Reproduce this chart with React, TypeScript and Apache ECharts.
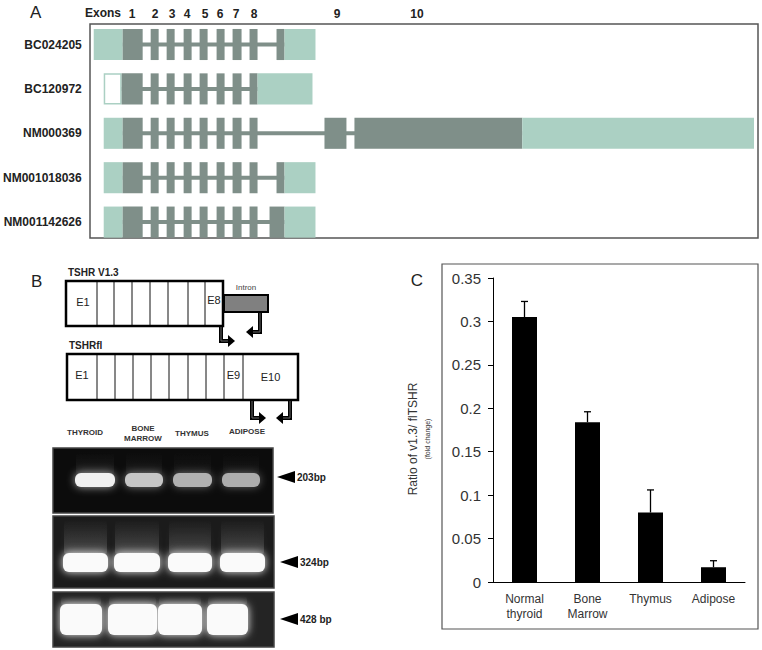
import React, { useEffect, useRef } from "react";
import * as echarts from "echarts";

// ---------- Panel A data (positions along the transcript, figure units) ----------
const transcripts = ["BC024205", "BC120972", "NM000369", "NM001018036", "NM001142626"];
const utr5 = [[93, 122], [103, 121], [103, 122], [103, 122], [103, 122]];
const utr5Unknown = [false, true, false, false, false];
const commonExons = [[150, 158], [166, 174], [183, 191], [199, 207], [216, 224], [232, 241], [249, 257]];
const codingExons = [
  [[122, 142], ...commonExons, [276, 284]],
  [[121, 142], ...commonExons],
  [[122, 142], ...commonExons, [324, 346], [354, 522]],
  [[122, 142], ...commonExons, [276, 284]],
  [[122, 142], ...commonExons, [269, 284]],
];
const utr3 = [[284, 315], [257, 312], [522, 754], [284, 315], [284, 315]];
const exonNumbers = ["1", "2", "3", "4", "5", "6", "7", "8", "9", "10"];
const exonNumberPos = [132, 155, 172, 187, 205, 220, 236, 254, 337, 417];

// ---------- Panel B data ----------
const v13Exons = ["E1", "", "", "", "", "", "", "E8"];
const flExons = ["E1", "", "", "", "", "", "", "", "E9", "E10"];
const gelLanes = ["THYROID", "BONE\nMARROW", "THYMUS", "ADIPOSE"];
const gelSizes = ["203bp", "324bp", "428 bp"];
const band203 = [1.0, 0.72, 0.58, 0.55];
const band324 = [1.0, 1.0, 0.95, 1.0];
const band428 = [1.0, 1.0, 1.0, 1.0];

// ---------- Panel C data ----------
const tissues = ["Normal\nthyroid", "Bone\nMarrow", "Thymus", "Adipose"];
const ratio = [0.305, 0.184, 0.08, 0.017];
const ratioErr = [0.018, 0.012, 0.026, 0.0075];
const yTicks = [0, 0.05, 0.1, 0.15, 0.2, 0.25, 0.3, 0.35];

const FONT = "Liberation Sans, Arial, sans-serif";
const LIGHT = "#abd0c3";
const DARK = "#7f8f89";

function buildPanelB(): any[] {
  const els: any[] = [];
  // Labels
  els.push({ type: "text", x: 31, y: 281, style: { text: "B", font: `17px ${FONT}`, fill: "#222", verticalAlign: "middle" } });
  els.push({ type: "text", x: 68, y: 272, style: { text: "TSHR V1.3", font: `bold 10px ${FONT}`, fill: "#222", verticalAlign: "middle" } });
  els.push({ type: "text", x: 69, y: 345, style: { text: "TSHRfl", font: `bold 10px ${FONT}`, fill: "#222", verticalAlign: "middle" } });

  // V1.3 box
  const v13Div = [66, 97, 114, 132, 150, 168, 188, 205, 223];
  for (let i = 1; i < v13Div.length - 1; i++) {
    els.push({ type: "line", shape: { x1: v13Div[i], y1: 281, x2: v13Div[i], y2: 326 }, style: { stroke: "#111", lineWidth: 1 } });
  }
  els.push({ type: "rect", shape: { x: 66, y: 281, width: 157, height: 45 }, style: { fill: "none", stroke: "#000", lineWidth: 2.5 } });
  v13Exons.forEach((t, i) => {
    if (!t) return;
    const cx = i === 0 ? 83 : 214;
    els.push({ type: "text", x: cx, y: i === 0 ? 302 : 300, style: { text: t, font: `11px ${FONT}`, fill: "#222", align: "center", verticalAlign: "middle" } });
  });
  // intron
  els.push({ type: "text", x: 246, y: 287, style: { text: "Intron", font: `8px ${FONT}`, fill: "#444", align: "center", verticalAlign: "middle" } });
  els.push({ type: "rect", shape: { x: 224, y: 295, width: 44, height: 17 }, style: { fill: "#808080", stroke: "#000", lineWidth: 2 } });

  // fl box
  const flDiv = [67, 97, 115, 133, 151, 169, 188, 206, 224, 243, 298];
  for (let i = 1; i < flDiv.length - 1; i++) {
    els.push({ type: "line", shape: { x1: flDiv[i], y1: 354, x2: flDiv[i], y2: 400 }, style: { stroke: "#111", lineWidth: 1 } });
  }
  els.push({ type: "rect", shape: { x: 67, y: 354, width: 231, height: 46 }, style: { fill: "none", stroke: "#000", lineWidth: 2.5 } });
  flExons.forEach((t, i) => {
    if (!t) return;
    const cx = (flDiv[i] + flDiv[i + 1]) / 2;
    els.push({ type: "text", x: i === 0 ? 82 : cx, y: i === 9 ? 377 : 375, style: { text: t, font: `11px ${FONT}`, fill: "#222", align: "center", verticalAlign: "middle" } });
  });

  // bent arrows
  const arrow = (x: number, y0: number, y1: number, dir: number) => {
    const xe = x + dir * 7;
    els.push({ type: "polyline", shape: { points: [[x, y0], [x, y1], [xe, y1]] }, style: { stroke: "#000", lineWidth: 4, fill: "none" } });
    els.push({ type: "polyline", shape: { points: [[x, y0 + 1], [x, y1], [xe, y1]] }, style: { stroke: "#666", lineWidth: 1, fill: "none" } });
    els.push({ type: "polygon", shape: { points: [[xe, y1 - 6], [xe + dir * 7, y1], [xe, y1 + 6]] }, style: { fill: "#000" } });
  };
  arrow(221, 326, 341, 1);
  arrow(260, 312, 332, -1);
  arrow(252, 400, 418, 1);
  arrow(290, 400, 418, -1);

  // gel lane labels
  const laneLabelX = [85, 143, 192, 247];
  const laneLabelY = [432, 433, 433, 431];
  gelLanes.forEach((t, i) => {
    els.push({ type: "text", x: laneLabelX[i], y: laneLabelY[i], style: { text: t, font: `bold 8px ${FONT}`, fill: "#333", align: "center", verticalAlign: "middle", lineHeight: 10 } });
  });

  // gels
  const gels = [
    { x: 53, y: 448, w: 220, h: 65, bg: "#0c0c0c", lanes: [[75, 115], [125, 163], [173, 212], [222, 260]], by: [473, 487], band: band203, glow: 0.12, label: 477 },
    { x: 53, y: 516, w: 221, h: 72, bg: "#1b1b1b", lanes: [[63, 108], [114, 160], [168, 212], [220, 265]], by: [553, 572], band: band324, glow: 0.3, label: 562 },
    { x: 53, y: 592, w: 221, h: 55, bg: "#242424", lanes: [[60, 102], [108, 157], [158, 202], [207, 248]], by: [604, 635], band: band428, glow: 0.3, label: 619 },
  ];
  gels.forEach((g, gi) => {
    els.push({ type: "rect", shape: { x: g.x, y: g.y, width: g.w, height: g.h }, style: { fill: g.bg, stroke: "#444", lineWidth: 1.5 } });
    g.lanes.forEach((ln, li) => {
      const inten = g.band[li];
      // smear above band
      els.push({
        type: "rect",
        shape: { x: ln[0] + 1, y: g.y + 4, width: ln[1] - ln[0] - 2, height: g.by[0] - g.y - 2, r: 4 },
        style: {
          fill: new echarts.graphic.LinearGradient(0, 0, 0, 1, [
            { offset: 0, color: `rgba(140,140,140,0)` },
            { offset: 1, color: `rgba(170,170,170,${g.glow * inten})` },
          ]),
          shadowBlur: 6,
          shadowColor: `rgba(150,150,150,${g.glow * inten})`,
        },
      });
      const bright = Math.round(90 + 150 * inten);
      els.push({
        type: "rect",
        shape: { x: ln[0], y: g.by[0], width: ln[1] - ln[0], height: g.by[1] - g.by[0], r: 6 },
        style: {
          fill: gi === 0 ? `rgb(${bright},${bright},${bright})` : "#fafafa",
          shadowBlur: gi === 0 ? 8 : 9,
          shadowColor: gi === 0 ? `rgba(190,190,190,${0.9 * inten})` : "rgba(255,255,255,0.95)",
        },
      });
    });
    // size marker
    const tx = gi === 0 ? 277 : 280;
    els.push({ type: "polygon", shape: { points: [[tx, g.label], [tx + 18, g.label - 6], [tx + 18, g.label + 6]] }, style: { fill: "#000" } });
    els.push({ type: "text", x: tx + 20, y: g.label, style: { text: gelSizes[gi], font: `bold 10px ${FONT}`, fill: "#222", verticalAlign: "middle" } });
  });
  return els;
}

export default function App() {
  const ref = useRef<HTMLDivElement>(null);
  useEffect(() => {
    if (!ref.current) return;
    const chart = echarts.init(ref.current, undefined, { renderer: "svg" });

    const graphics: any[] = [
      // Panel A frame and header
      { type: "rect", shape: { x: 90, y: 24, width: 668, height: 214 }, style: { fill: "none", stroke: "#555", lineWidth: 1.5 }, z: 0 },
      { type: "text", x: 30, y: 12, style: { text: "A", font: `17px ${FONT}`, fill: "#222", verticalAlign: "middle" } },
      { type: "text", x: 85, y: 13, style: { text: "Exons", font: `bold 12px ${FONT}`, fill: "#222", verticalAlign: "middle" } },
      ...exonNumbers.map((t, i) => ({ type: "text", x: exonNumberPos[i], y: 14, style: { text: t, font: `bold 12px ${FONT}`, fill: "#222", align: "center", verticalAlign: "middle" } })),
      // Panel C frame
      { type: "rect", shape: { x: 442, y: 264, width: 316, height: 365 }, style: { fill: "none", stroke: "#555", lineWidth: 1.2 } },
      { type: "text", x: 417, y: 280, style: { text: "C", font: `17px ${FONT}`, fill: "#222", align: "center", verticalAlign: "middle" } },
      { type: "text", x: 413, y: 439, rotation: Math.PI / 2, style: { text: "Ratio of v1.3/ flTSHR", font: `12px ${FONT}`, fill: "#333", align: "center", verticalAlign: "middle" } },
      { type: "text", x: 427, y: 439, rotation: Math.PI / 2, style: { text: "(fold change)", font: `7px ${FONT}`, fill: "#333", align: "center", verticalAlign: "middle" } },
      ...buildPanelB(),
    ];

    chart.setOption({
      animation: false,
      backgroundColor: "#fff",
      grid: [
        { left: 90, top: 22.3, width: 668, height: 222, containLabel: false },
        { left: 493, top: 278, width: 252, height: 304, containLabel: false },
      ],
      xAxis: [
        { gridIndex: 0, type: "value", min: 90, max: 758, show: false },
        {
          gridIndex: 1,
          type: "category",
          data: tissues,
          axisLine: { lineStyle: { color: "#000", width: 1 } },
          axisTick: { show: false },
          axisLabel: { color: "#333", fontSize: 12, fontFamily: FONT, lineHeight: 15, margin: 9, interval: 0 },
        },
      ],
      yAxis: [
        {
          gridIndex: 0,
          type: "category",
          data: transcripts,
          inverse: true,
          axisLine: { show: false },
          axisTick: { show: false },
          splitLine: { show: false },
          axisLabel: { color: "#222", fontSize: 12, fontWeight: "bold", fontFamily: FONT, margin: 9, interval: 0 },
        },
        {
          gridIndex: 1,
          type: "value",
          min: 0,
          max: 0.35,
          interval: 0.05,
          axisLine: { show: true, lineStyle: { color: "#000", width: 1 } },
          axisTick: { show: true, length: 5, lineStyle: { color: "#000" } },
          splitLine: { show: false },
          axisLabel: {
            color: "#333",
            fontSize: 15,
            fontFamily: FONT,
            margin: 12,
            formatter: (v: number) => {
              const t = yTicks.find((k) => Math.abs(k - v) < 1e-9);
              return t === 0 ? "0" : String(+(t ?? v).toFixed(2));
            },
          },
        },
      ],
      series: [
        {
          type: "custom",
          xAxisIndex: 0,
          yAxisIndex: 0,
          data: transcripts.map((_, i) => [utr5[i][0], i]),
          encode: { x: 0, y: 1 },
          renderItem: (params: any, api: any) => {
            const i = params.dataIndex;
            const yc = api.coord([100, i])[1];
            const h = api.size([0, 1])[1] * 0.7;
            const px = (v: number) => api.coord([v, i])[0];
            const seg = (s: number, e: number, style: any) => ({
              type: "rect",
              shape: { x: px(s), y: yc - h / 2, width: px(e) - px(s), height: h },
              style,
            });
            const ex = codingExons[i];
            const children: any[] = [];
            children.push({
              type: "rect",
              shape: { x: px(ex[0][0]), y: yc - 2, width: px(ex[ex.length - 1][1]) - px(ex[0][0]), height: 4 },
              style: { fill: DARK },
            });
            const u5 = utr5[i];
            if (utr5Unknown[i]) {
              children.push({
                type: "rect",
                shape: { x: px(u5[0]) + 0.75, y: yc - h / 2 + 0.75, width: px(u5[1]) - px(u5[0]) - 1.5, height: h - 1.5 },
                style: { fill: "#fff", stroke: LIGHT, lineWidth: 1.5 },
              });
            } else {
              children.push(seg(u5[0], u5[1], { fill: LIGHT }));
            }
            ex.forEach((e) => children.push(seg(e[0], e[1], { fill: DARK })));
            children.push(seg(utr3[i][0], utr3[i][1], { fill: LIGHT }));
            return { type: "group", children };
          },
        },
        {
          type: "bar",
          xAxisIndex: 1,
          yAxisIndex: 1,
          data: ratio,
          barWidth: 25,
          itemStyle: { color: "#000" },
          z: 2,
        },
        {
          type: "custom",
          xAxisIndex: 1,
          yAxisIndex: 1,
          data: ratio.map((v, i) => [i, v, v + ratioErr[i]]),
          encode: { x: 0, y: 2 },
          z: 3,
          renderItem: (params: any, api: any) => {
            const i = api.value(0);
            const lo = api.coord([i, api.value(1)]);
            const hi = api.coord([i, api.value(2)]);
            return {
              type: "group",
              children: [
                { type: "line", shape: { x1: lo[0], y1: lo[1], x2: hi[0], y2: hi[1] }, style: { stroke: "#000", lineWidth: 1.3 } },
                { type: "line", shape: { x1: hi[0] - 3.5, y1: hi[1], x2: hi[0] + 3.5, y2: hi[1] }, style: { stroke: "#000", lineWidth: 1.3 } },
              ],
            };
          },
        },
      ],
      graphic: graphics,
    });
    return () => chart.dispose();
  }, []);
  return <div ref={ref} style={{ position: "absolute", left: 0, top: 0, width: 762, height: 650 }} />;
}
